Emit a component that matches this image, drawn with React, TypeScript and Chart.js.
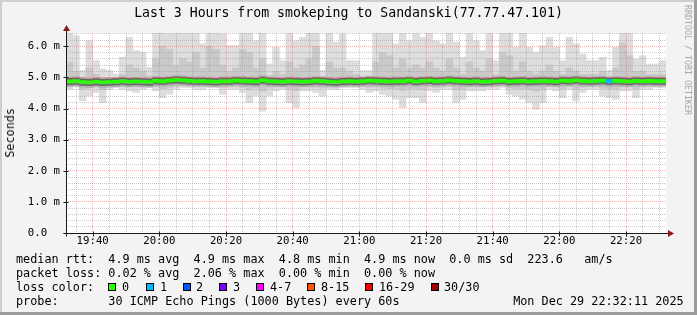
import { useEffect, useRef } from 'react';
import { Chart, registerables } from 'chart.js';

Chart.register(...registerables);

const TITLE = 'Last 3 Hours from smokeping to Sandanski(77.77.47.101)';
const START_MIN = 32; // 19:32, minutes after 19:00
const END_MIN = 212; // 22:32
const STEP_MIN = 2;

const smokeHigh = [
  6.5, 6.34, 5.22, 6.18, 5.54, 5.27, 5.22, 5.11, 5.65, 6.29,
  5.86, 5.81, 5.32, 6.5, 6.5, 6.4, 6.5, 6.5, 6.5, 6.5,
  6.08, 6.5, 6.5, 6.4, 6.02, 6.02, 6.5, 6.5, 6.18, 6.5,
  5.43, 5.97, 5.54, 6.5, 6.18, 6.29, 6.5, 6.5, 5.22, 6.5,
  6.13, 6.4, 5.54, 5.54, 5.22, 5.22, 6.5, 6.5, 6.5, 6.08,
  6.5, 6.18, 6.5, 6.29, 6.5, 6.18, 6.08, 6.5, 6.13, 5.65,
  6.5, 6.18, 5.86, 6.5, 5.54, 6.5, 6.5, 5.97, 6.5, 5.97,
  5.81, 6.02, 6.29, 5.97, 5.54, 6.29, 6.08, 5.75, 5.54, 5.54,
  5.65, 5.22, 5.97, 6.5, 6.5, 5.59, 5.7, 5.43, 5.43, 5.54,
];
const smokeLow = [
  4.62, 4.73, 4.25, 4.41, 4.52, 4.19, 4.62, 4.68, 4.62, 4.57,
  4.52, 4.62, 4.68, 4.57, 4.35, 4.46, 4.62, 4.68, 4.68, 4.62,
  4.62, 4.68, 4.68, 4.46, 4.62, 4.62, 4.52, 4.19, 4.41, 3.92,
  4.41, 4.57, 4.62, 4.19, 4.03, 4.57, 4.57, 4.52, 4.41, 4.62,
  4.62, 4.68, 4.68, 4.68, 4.62, 4.52, 4.57, 4.46, 4.41, 4.3,
  4.03, 4.35, 4.35, 4.19, 4.57, 4.52, 4.62, 4.62, 4.19, 4.3,
  4.57, 4.57, 4.57, 4.62, 4.62, 4.68, 4.46, 4.41, 4.3, 4.19,
  3.98, 4.19, 4.62, 4.57, 4.35, 4.62, 4.25, 4.52, 4.62, 4.62,
  4.41, 4.35, 4.3, 4.57, 4.57, 4.35, 4.62, 4.62, 4.68, 4.68,
];
const smokeMidHigh = [
  5.5, 5.2, 5.0, 5.3, 5.1, 5.0, 5.0, 4.98, 5.1, 5.4,
  5.3, 5.2, 5.05, 5.6, 6.0, 5.9, 5.4, 5.6, 5.5, 5.8,
  5.3, 6.0, 5.9, 5.4, 5.2, 5.3, 5.9, 5.8, 5.3, 5.6,
  5.05, 5.2, 5.1, 5.5, 5.3, 5.4, 5.6, 6.0, 5.0, 5.5,
  5.3, 5.3, 5.2, 5.1, 5.0, 5.0, 5.5, 5.8, 5.7, 5.3,
  5.6, 5.3, 5.4, 5.3, 5.5, 5.3, 5.2, 5.6, 5.3, 5.1,
  5.5, 5.3, 5.2, 5.6, 5.1, 5.8, 5.7, 5.2, 5.5, 5.2,
  5.1, 5.2, 5.4, 5.2, 5.1, 5.3, 5.2, 5.1, 5.1, 5.1,
  5.2, 5.0, 5.3, 6.1, 5.7, 5.2, 5.2, 5.1, 5.1, 5.1,
];
const smokeMidLow = [
  4.74, 4.76, 4.62, 4.66, 4.7, 4.6, 4.72, 4.74, 4.72, 4.7,
  4.7, 4.72, 4.74, 4.7, 4.64, 4.66, 4.72, 4.74, 4.74, 4.72,
  4.72, 4.74, 4.74, 4.68, 4.72, 4.72, 4.68, 4.6, 4.66, 4.56,
  4.66, 4.7, 4.72, 4.62, 4.58, 4.7, 4.7, 4.68, 4.66, 4.72,
  4.72, 4.74, 4.74, 4.74, 4.72, 4.68, 4.7, 4.66, 4.64, 4.62,
  4.58, 4.64, 4.64, 4.6, 4.7, 4.68, 4.72, 4.72, 4.6, 4.62,
  4.7, 4.7, 4.7, 4.72, 4.72, 4.74, 4.66, 4.64, 4.62, 4.6,
  4.56, 4.6, 4.72, 4.7, 4.64, 4.72, 4.62, 4.68, 4.72, 4.72,
  4.66, 4.64, 4.62, 4.7, 4.7, 4.64, 4.72, 4.72, 4.74, 4.74,
];
const medianRtt = [
  4.87, 4.88, 4.85, 4.84, 4.86, 4.84, 4.85, 4.86, 4.88, 4.86,
  4.87, 4.86, 4.85, 4.89, 4.88, 4.9, 4.92, 4.91, 4.89, 4.88,
  4.88, 4.87, 4.86, 4.88, 4.88, 4.9, 4.89, 4.88, 4.87, 4.91,
  4.88, 4.87, 4.86, 4.88, 4.87, 4.86, 4.87, 4.89, 4.88, 4.86,
  4.85, 4.87, 4.88, 4.87, 4.88, 4.9, 4.89, 4.88, 4.87, 4.88,
  4.88, 4.9, 4.87, 4.89, 4.9, 4.88, 4.89, 4.91, 4.89, 4.88,
  4.87, 4.88, 4.86, 4.87, 4.89, 4.9, 4.87, 4.88, 4.89, 4.87,
  4.88, 4.89, 4.88, 4.87, 4.9, 4.89, 4.91, 4.89, 4.88, 4.89,
  4.9, 4.88, 4.89, 4.88, 4.87, 4.89, 4.88, 4.89, 4.88, 4.88,
];
const lossCount = [
  0, 0, 0, 0, 0, 0, 0, 0, 0, 0,
  0, 0, 0, 0, 0, 0, 0, 0, 0, 0,
  0, 0, 0, 0, 0, 0, 0, 0, 0, 0,
  0, 0, 0, 0, 0, 0, 0, 0, 0, 0,
  0, 0, 0, 0, 0, 0, 0, 0, 0, 0,
  0, 0, 0, 0, 0, 0, 0, 0, 0, 0,
  0, 0, 0, 0, 0, 0, 0, 0, 0, 0,
  0, 0, 0, 0, 0, 0, 0, 0, 0, 0,
  0, 1, 0, 0, 0, 0, 0, 0, 0, 0,
];

const lossLabels = ['0', '1', '2', '3', '4-7', '8-15', '16-29', '30/30'];
const lossColors = ['#26ff00', '#00b8ff', '#0059ff', '#7e00ff', '#ff00ff', '#ff5500', '#ff0000', '#a10000'];
const lossBoxX = [108, 146, 183, 219, 256, 307, 365, 431];
const lossTextX = [122, 160, 196, 233, 270, 321, 379, 444];

const xTickMinutes = [40, 60, 80, 100, 120, 140, 160, 180, 200];
const xTickLabels = ['19:40', '20:00', '20:20', '20:40', '21:00', '21:20', '21:40', '22:00', '22:20'];
const yTickValues = [0, 1, 2, 3, 4, 5, 6];
const yTickLabels = ['0.0  ', '1.0 m', '2.0 m', '3.0 m', '4.0 m', '5.0 m', '6.0 m'];
const Y_MAX = 6.43;

const legendLines = [
  'median rtt:  4.9 ms avg  4.9 ms max  4.8 ms min  4.9 ms now  0.0 ms sd  223.6   am/s',
  'packet loss: 0.02 % avg  2.06 % max  0.00 % min  0.00 % now',
  'loss color:',
  'probe:       30 ICMP Echo Pings (1000 Bytes) every 60s                Mon Dec 29 22:32:11 2025',
];

const MONO = "'DejaVu Sans Mono', monospace";
const MAJOR_GRID = 'rgba(230,90,90,0.45)';
const MINOR_GRID = 'rgba(150,150,150,0.5)';

const colX = (i: number) => START_MIN + STEP_MIN * i + STEP_MIN / 2;

const framePlugin = {
  id: 'rrdFrame',
  beforeDraw(chart: any) {
    const { ctx, width, height, chartArea: a } = chart;
    ctx.save();
    ctx.fillStyle = '#f3f3f3';
    ctx.fillRect(0, 0, width, height);
    ctx.fillStyle = '#ffffff';
    ctx.fillRect(a.left, a.top, a.right - a.left, a.bottom - a.top);
    ctx.fillStyle = '#cfcfcf';
    ctx.fillRect(0, 0, width, 2);
    ctx.fillRect(0, 0, 2, height);
    ctx.fillStyle = '#9c9c9c';
    ctx.fillRect(0, height - 3, width, 3);
    ctx.fillRect(width - 3, 0, 3, height);
    ctx.restore();
  },
  afterDraw(chart: any) {
    const { ctx, chartArea: a, scales } = chart;
    const xs = scales.x;
    const ys = scales.y;
    const x0 = Math.round(a.left) + 0.5;
    const y0 = Math.round(a.bottom) + 0.5;
    ctx.save();
    ctx.strokeStyle = '#1a1a1a';
    ctx.lineWidth = 1;
    ctx.beginPath();
    ctx.moveTo(x0, y0 + 3);
    ctx.lineTo(x0, a.top - 3);
    ctx.moveTo(x0 - 3, y0);
    ctx.lineTo(a.right + 3, y0);
    yTickValues.forEach((v) => {
      const py = Math.round(ys.getPixelForValue(v)) + 0.5;
      ctx.moveTo(x0 - 3, py);
      ctx.lineTo(x0 + 2, py);
    });
    xTickMinutes.forEach((m) => {
      const px = Math.round(xs.getPixelForValue(m)) + 0.5;
      ctx.moveTo(px, y0 - 2);
      ctx.lineTo(px, y0 + 3);
    });
    ctx.stroke();
    ctx.fillStyle = '#8a1a1a';
    ctx.beginPath();
    ctx.moveTo(x0, a.top - 8);
    ctx.lineTo(x0 - 3.5, a.top - 2);
    ctx.lineTo(x0 + 3.5, a.top - 2);
    ctx.closePath();
    ctx.fill();
    ctx.beginPath();
    ctx.moveTo(a.right + 8, y0);
    ctx.lineTo(a.right + 2, y0 - 3.5);
    ctx.lineTo(a.right + 2, y0 + 3.5);
    ctx.closePath();
    ctx.fill();
    ctx.restore();
  },
};

export default function App() {
  const canvasRef = useRef<HTMLCanvasElement | null>(null);

  useEffect(() => {
    const canvas = canvasRef.current;
    if (!canvas) return;

    const band = (lo: number[], hi: number[]) => lo.map((v, i) => ({ x: colX(i), y: [v, hi[i]] }));
    const around = (dLo: number, dHi: number) =>
      medianRtt.map((m, i) => ({ x: colX(i), y: [m - dLo, m + dHi] }));

    const barCommon = {
      type: 'bar' as const,
      grouped: false,
      barPercentage: 1,
      categoryPercentage: 1,
      borderWidth: 0,
      inflateAmount: 0.4,
      clip: 0,
    };

    const chart = new Chart(canvas, {
      type: 'bar',
      data: {
        datasets: [
          {
            ...barCommon,
            label: 'median',
            data: around(0.05, 0.05),
            backgroundColor: lossCount.map((l) => lossColors[l]),
            order: 0,
          },
          {
            ...barCommon,
            label: 'dark',
            data: around(0.1, 0.1),
            backgroundColor: '#666666',
            order: 1,
          },
          {
            ...barCommon,
            label: 'medium',
            data: around(0.16, 0.14),
            backgroundColor: '#b0b0b0',
            order: 2,
          },
          {
            ...barCommon,
            label: 'mid',
            data: band(smokeMidLow, smokeMidHigh),
            backgroundColor: '#c9c9c9',
            order: 3,
          },
          {
            ...barCommon,
            label: 'smoke',
            data: band(smokeLow, smokeHigh),
            backgroundColor: '#dddddd',
            order: 4,
          },
        ] as any,
      },
      options: {
        animation: false,
        responsive: false,
        maintainAspectRatio: false,
        devicePixelRatio: 1,
        events: [],
        layout: { padding: { left: 0, right: 31, top: 33, bottom: 62 } },
        plugins: {
          legend: { display: false },
          tooltip: { enabled: false },
          title: { display: false },
        },
        scales: {
          x: {
            type: 'linear',
            min: START_MIN,
            max: END_MIN,
            offset: false,
            afterFit: (s: any) => {
              s.height = 20;
            },
            afterBuildTicks: (s: any) => {
              const t = [];
              for (let m = 35; m < END_MIN; m += 5) t.push({ value: m });
              s.ticks = t;
            },
            grid: {
              offset: false,
              z: 1,
              drawTicks: false,
              lineWidth: 1,
              color: (ctx: any) => {
                const v = ctx.tick ? ctx.tick.value : 0;
                return v % 20 === 0 ? MAJOR_GRID : MINOR_GRID;
              },
            },
            border: { display: false, dash: [1, 1] },
            ticks: {
              autoSkip: false,
              maxRotation: 0,
              padding: 2,
              color: '#000',
              font: { family: MONO, size: 10.7 },
              callback: (v: any) => {
                const k = xTickMinutes.indexOf(Number(v));
                return k >= 0 ? xTickLabels[k] : '';
              },
            },
          },
          y: {
            type: 'linear',
            min: 0,
            max: Y_MAX,
            afterFit: (s: any) => {
              s.width = 66;
            },
            afterBuildTicks: (s: any) => {
              const t = [];
              for (let k = 0; k <= 32; k++) t.push({ value: k / 5 });
              s.ticks = t;
            },
            grid: {
              z: 1,
              drawTicks: false,
              lineWidth: 1,
              color: (ctx: any) => {
                const v = ctx.tick ? ctx.tick.value : 0;
                if (v === 0) return 'rgba(0,0,0,0)';
                return Math.abs(v - Math.round(v)) < 1e-6 ? MAJOR_GRID : MINOR_GRID;
              },
            },
            border: { display: false, dash: [1, 1] },
            ticks: {
              autoSkip: false,
              padding: 6,
              color: '#000',
              font: { family: MONO, size: 10.7 },
              callback: (v: any) => {
                const n = Number(v);
                const k = yTickValues.findIndex((t) => Math.abs(t - n) < 1e-6);
                return k >= 0 ? yTickLabels[k] : '';
              },
            },
          },
        },
      },
      plugins: [framePlugin],
    });

    return () => chart.destroy();
  }, []);

  const lineTop = [252, 266, 280, 294];

  return (
    <div style={{ position: 'absolute', left: 0, top: 0, width: 697, height: 315, overflow: 'hidden' }}>
      <canvas ref={canvasRef} width={697} height={315} style={{ position: 'absolute', left: 0, top: 0, width: 697, height: 315 }} />
      <div
        style={{
          position: 'absolute',
          left: 0,
          top: 5,
          width: 697,
          textAlign: 'center',
          fontFamily: MONO,
          fontSize: 13.2,
          lineHeight: '16px',
          color: '#000',
          whiteSpace: 'pre',
        }}
      >
        {TITLE}
      </div>
      <div
        style={{
          position: 'absolute',
          left: 3,
          top: 108,
          fontFamily: MONO,
          fontSize: 11.8,
          lineHeight: '14px',
          color: '#000',
          writingMode: 'vertical-rl',
          transform: 'rotate(180deg)',
          whiteSpace: 'pre',
        }}
      >
        Seconds
      </div>
      <div
        style={{
          position: 'absolute',
          left: 683,
          top: 5,
          fontFamily: MONO,
          fontSize: 8.3,
          lineHeight: '10px',
          color: '#a8a8a8',
          writingMode: 'vertical-rl',
          whiteSpace: 'pre',
        }}
      >
        RRDTOOL / TOBI OETIKER
      </div>
      {legendLines.map((t, i) => (
        <div
          key={i}
          style={{
            position: 'absolute',
            left: 16,
            top: lineTop[i],
            fontFamily: MONO,
            fontSize: 11.8,
            lineHeight: '14px',
            color: '#000',
            whiteSpace: 'pre',
          }}
        >
          {t}
        </div>
      ))}
      {lossLabels.map((lab, i) => (
        <div key={'b' + i}>
          <div
            style={{
              position: 'absolute',
              left: lossBoxX[i],
              top: 283,
              width: 6,
              height: 6,
              border: '1px solid #000',
              background: lossColors[i],
            }}
          />
          <div
            style={{
              position: 'absolute',
              left: lossTextX[i],
              top: lineTop[2],
              fontFamily: MONO,
              fontSize: 11.8,
              lineHeight: '14px',
              color: '#000',
              whiteSpace: 'pre',
            }}
          >
            {lab}
          </div>
        </div>
      ))}
    </div>
  );
}
